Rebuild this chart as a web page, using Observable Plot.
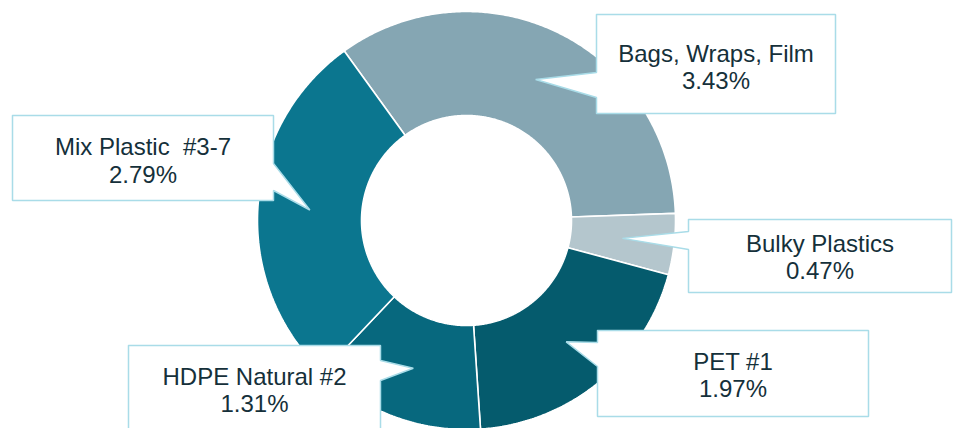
<!DOCTYPE html>
<html>
<head>
<meta charset="utf-8">
<script src="https://cdn.jsdelivr.net/npm/d3@7"></script>
<script src="https://cdn.jsdelivr.net/npm/@observablehq/plot@0.6"></script>
<style>
  html, body { margin: 0; padding: 0; background: #fff; overflow: hidden; }
  svg text { white-space: pre; }
</style>
</head>
<body>
<div id="chart"></div>
<script>
// ---- Data ----
const categories = ["Bags, Wraps, Film", "Bulky Plastics", "PET #1", "HDPE Natural #2", "Mix Plastic  #3-7"];
const values = [3.43, 0.47, 1.97, 1.31, 2.79];
const valueLabels = ["3.43%", "0.47%", "1.97%", "1.31%", "2.79%"];

// ---- Styles ----
const sliceColors = ["#85a6b3", "#b4c6cd", "#055b6d", "#07687e", "#0b768f"];
const boxStroke = "#a9dce8";
const textColor = "#15303a";

// ---- Layout (pixels) ----
const W = 954, H = 428;
const cx = 466, cy = 220;
const outerR = 209, innerR = 105, tipR = 157;
const startDeg = -35.8;
// callout boxes: [x1, y1, x2, y2], tail side, tail base (b1, b2), text center y
const calloutLayout = [
  {rect: [596, 14, 835, 113], side: "left",  b: [72, 97],   ty: 66},
  {rect: [688, 219, 951, 292], side: "left", b: [231, 249], ty: 256},
  {rect: [597, 330, 868, 416], side: "left", b: [342, 366], ty: 374},
  {rect: [128, 345, 380, 432], side: "right", b: [360, 380], ty: 389},
  {rect: [12, 115, 273, 200], side: "right", b: [163, 190], ty: 159.5}
];

// ---- Geometry via d3.pie ----
const start = startDeg * Math.PI / 180;
const arcs = d3.pie().sort(null).startAngle(start).endAngle(start + 2 * Math.PI)(values);
const pt = (a, r) => [cx + r * Math.sin(a), cy - r * Math.cos(a)];

const slicePts = [];
arcs.forEach((d, i) => {
  const n = Math.max(4, Math.ceil((d.endAngle - d.startAngle) / (Math.PI / 360)));
  const ring = [];
  for (let k = 0; k <= n; k++) ring.push(pt(d.startAngle + (d.endAngle - d.startAngle) * k / n, outerR));
  for (let k = n; k >= 0; k--) ring.push(pt(d.startAngle + (d.endAngle - d.startAngle) * k / n, innerR));
  ring.push(ring[0]);
  ring.forEach(([x, y]) => slicePts.push({cat: categories[i], x, y, color: sliceColors[i]}));
});

const calloutPts = [];
const labelRows = [];
arcs.forEach((d, i) => {
  const L = calloutLayout[i];
  const [x1, y1, x2, y2] = L.rect;
  const tip = pt((d.startAngle + d.endAngle) / 2, tipR);
  let poly;
  if (L.side === "left") {
    poly = [[x1, y1], [x2, y1], [x2, y2], [x1, y2], [x1, L.b[1]], tip, [x1, L.b[0]], [x1, y1]];
  } else {
    poly = [[x1, y1], [x2, y1], [x2, L.b[0]], tip, [x2, L.b[1]], [x2, y2], [x1, y2], [x1, y1]];
  }
  poly.forEach(([x, y]) => calloutPts.push({cat: categories[i], x, y}));
  labelRows.push({x: (x1 + x2) / 2, y: L.ty, text: categories[i] + "\n" + valueLabels[i]});
});

const chart = Plot.plot({
  width: W,
  height: H,
  margin: 0,
  x: {domain: [0, W], range: [0, W], axis: null},
  y: {domain: [0, H], range: [0, H], axis: null},
  style: {fontFamily: "'Liberation Sans', Arial, sans-serif", background: "#fff"},
  marks: [
    Plot.line(slicePts, {x: "x", y: "y", z: "cat", fill: d => d.color, stroke: "#fff", strokeWidth: 1.6, strokeLinejoin: "miter", curve: "linear"}),
    Plot.line(calloutPts, {x: "x", y: "y", z: "cat", fill: "#fff", stroke: boxStroke, strokeWidth: 1.5, strokeLinejoin: "miter", curve: "linear"}),
    Plot.text(labelRows, {x: "x", y: "y", text: "text", fontSize: 24, lineHeight: 1.15, fill: textColor, textAnchor: "middle", lineAnchor: "middle"})
  ]
});
document.getElementById("chart").appendChild(chart);
</script>
</body>
</html>
